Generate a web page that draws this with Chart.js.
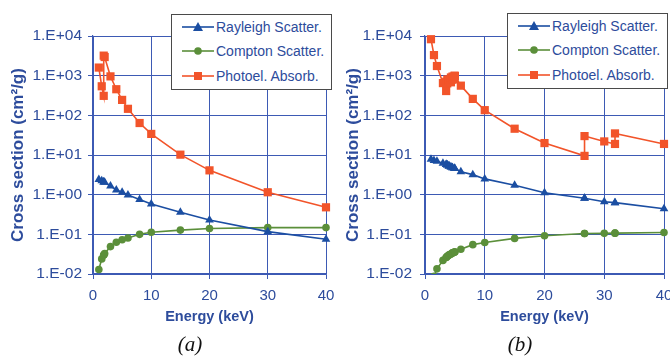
<!DOCTYPE html>
<html>
<head>
<meta charset="utf-8">
<script src="https://cdn.jsdelivr.net/npm/chart.js@4"></script>
<style>
  html, body { margin: 0; padding: 0; background: #fff; }
  #wrap { position: relative; width: 670px; height: 357px; overflow: hidden; }
  .panel { position: absolute; top: 0; width: 335px; height: 357px; }
  .legend {
    position: absolute; box-sizing: border-box; width: 161px; height: 76px;
    background: #fff; border: 1px solid #4a4a4a;
    font: 14px 'Liberation Sans', Arial, sans-serif; color: #2d4c9c;
  }
  .legend .row { position: absolute; left: 0; height: 20px; line-height: 20px; }
  .legend svg { position: absolute; left: 10px; top: 0; }
  .legend span { position: absolute; left: 44px; top: 0; white-space: nowrap; }
  .caption {
    position: absolute; top: 332px; width: 40px; text-align: center;
    font: italic 21px 'Liberation Serif', 'DejaVu Serif', serif; color: #111;
  }
</style>
</head>
<body>
<div id="wrap">
  <div class="panel" style="left:0"><canvas id="chart-a" width="335" height="357"></canvas></div>
  <div class="panel" style="left:335px"><canvas id="chart-b" width="335" height="357"></canvas></div>
  <div class="legend" id="legend-a" style="left:171px; top:14px"></div>
  <div class="legend" id="legend-b" style="left:507px; top:13px"></div>
  <div class="caption" style="left:170px">(a)</div>
  <div class="caption" style="left:500px">(b)</div>
</div>
<script>
// ---- data ----
const SERIES_NAMES = ['Rayleigh Scatter.', 'Compton Scatter.', 'Photoel. Absorb.'];
const X_TICKS = [0, 10, 20, 30, 40];
const Y_TICK_VALUES = [1e-2, 1e-1, 1e0, 1e1, 1e2, 1e3, 1e4];
const Y_TICK_LABELS = ['1.E-02', '1.E-01', '1.E+00', '1.E+01', '1.E+02', '1.E+03', '1.E+04'];

// panel (a)
const ENERGY_A = [1, 1.5, 1.84, 1.84, 2, 3, 4, 5, 6, 8, 10, 15, 20, 30, 40];
const RAYLEIGH_A = [2.4, 2.25, 2.1, 2.1, 2.05, 1.65, 1.32, 1.15, 0.98, 0.76, 0.58, 0.36, 0.23, 0.117, 0.075];
const COMPTON_A = [0.013, 0.024, 0.030, 0.030, 0.033, 0.049, 0.063, 0.073, 0.081, 0.100, 0.113, 0.128, 0.140, 0.148, 0.148];
const PHOTO_A = [1600, 540, 310, 3200, 2950, 960, 455, 245, 146, 64, 34, 10.2, 4.1, 1.15, 0.48];

// panel (b)
const ENERGY_B = [1, 1.5, 2, 3, 3.54, 3.54, 3.73, 3.73, 4, 4.02, 4.02, 4.34, 4.34, 4.61, 4.61, 4.94, 4.94, 5, 6, 8, 10, 15, 20, 26.7, 26.7, 30, 31.8, 31.8, 40];
const RAYLEIGH_B = [7.8, 7.3, 7.0, 6.2, 5.8, 5.8, 5.6, 5.6, 5.3, 5.3, 5.3, 5.0, 5.0, 4.8, 4.8, 4.6, 4.6, 4.55, 3.8, 3.2, 2.5, 1.72, 1.12, 0.81, 0.81, 0.66, 0.63, 0.63, 0.44];
const COMPTON_B = [0.005, 0.0088, 0.0135, 0.022, 0.026, 0.026, 0.028, 0.028, 0.030, 0.030, 0.030, 0.032, 0.032, 0.034, 0.034, 0.036, 0.036, 0.036, 0.042, 0.055, 0.062, 0.079, 0.092, 0.105, 0.105, 0.106, 0.107, 0.107, 0.111];
const PHOTO_B = [8300, 3300, 1750, 650, 410, 700, 640, 800, 740, 730, 800, 680, 900, 790, 950, 830, 1000, 980, 560, 260, 135, 46, 20, 9.5, 30, 22, 19, 35, 19];

// ---- styles ----
const FONT = "'Liberation Sans', Arial, sans-serif";
const AXIS_TEXT = '#2d4c9c';
const GRID = '#3d5ab4';
const STYLES = [
  { color: '#1b4ea2', point: 'triangle', radius: 5 },
  { color: '#5b8f3a', point: 'circle', radius: 3.8 },
  { color: '#f2542a', point: 'rect', radius: 5.8 },
];

// 凡例（HTML）
function buildLegend(id) {
  const box = document.getElementById(id);
  const rows = [2, 26, 51];
  SERIES_NAMES.forEach((name, i) => {
    const s = STYLES[i];
    let mark;
    if (s.point === 'triangle') mark = '<polygon points="16,5 21,14 11,14" fill="' + s.color + '"/>';
    else if (s.point === 'circle') mark = '<circle cx="16" cy="10" r="3.8" fill="' + s.color + '"/>';
    else mark = '<rect x="12" y="6" width="8" height="8" fill="' + s.color + '"/>';
    const row = document.createElement('div');
    row.className = 'row';
    row.style.top = rows[i] + 'px';
    row.innerHTML = '<svg width="32" height="20"><line x1="0" y1="10" x2="32" y2="10" stroke="' + s.color +
      '" stroke-width="1.6"/>' + mark + '</svg><span>' + name + '</span>';
    box.appendChild(row);
  });
}

function toPoints(xs, ys) {
  return xs.map((x, i) => ({ x, y: ys[i] }));
}

function buildChart(canvasId, energy, series, plotLeft, rightPad, tickPad) {
  const datasets = series.map((ys, i) => ({
    label: SERIES_NAMES[i],
    data: toPoints(energy, ys),
    showLine: true,
    borderColor: STYLES[i].color,
    backgroundColor: STYLES[i].color,
    borderWidth: 1.6,
    pointStyle: STYLES[i].point,
    pointRadius: STYLES[i].radius,
    pointBorderWidth: 0,
    clip: { left: 10, right: 10, top: 10, bottom: 0 },
  }));

  return new Chart(document.getElementById(canvasId), {
    type: 'scatter',
    data: { datasets },
    options: {
      responsive: false,
      animation: false,
      layout: { padding: { left: 0, right: rightPad, top: 36, bottom: 27 } },
      plugins: { legend: { display: false }, tooltip: { enabled: false } },
      scales: {
        x: {
          type: 'linear',
          min: 0,
          max: 40,
          afterBuildTicks: (scale) => { scale.ticks = X_TICKS.map((v) => ({ value: v })); },
          afterFit: (scale) => { scale.height = 56; scale.paddingLeft = 0; scale.paddingRight = 0; },
          grid: { color: GRID, lineWidth: 1, tickLength: 5, tickColor: GRID },
          border: { color: GRID, width: 1.2 },
          ticks: { color: AXIS_TEXT, font: { family: FONT, size: 15 }, padding: 8, maxRotation: 0 },
          title: {
            display: true,
            text: 'Energy (keV)',
            color: AXIS_TEXT,
            font: { family: FONT, size: 14.5, weight: 'bold' },
            padding: { top: 4, bottom: 4 },
          },
        },
        y: {
          type: 'logarithmic',
          min: 0.01,
          max: 10000,
          afterBuildTicks: (scale) => { scale.ticks = Y_TICK_VALUES.map((v) => ({ value: v })); },
          afterFit: (scale) => { scale.width = plotLeft; },
          grid: { color: GRID, lineWidth: 1, tickLength: 5, tickColor: GRID },
          border: { color: GRID, width: 1.2 },
          ticks: {
            color: AXIS_TEXT,
            font: { family: FONT, size: 15.5 },
            padding: tickPad,
            callback: (v) => {
              const i = Y_TICK_VALUES.findIndex((t) => Math.abs(Math.log10(t) - Math.log10(v)) < 1e-6);
              return i >= 0 ? Y_TICK_LABELS[i] : '';
            },
          },
          title: {
            display: true,
            text: 'Cross section (cm²/g)',
            color: AXIS_TEXT,
            font: { family: FONT, size: 17, weight: 'bold' },
            padding: { top: 8, bottom: 0 },
          },
        },
      },
    },
  });
}

buildChart('chart-a', ENERGY_A, [RAYLEIGH_A, COMPTON_A, PHOTO_A], 93, 9, 6);
buildChart('chart-b', ENERGY_B, [RAYLEIGH_B, COMPTON_B, PHOTO_B], 90, 6, 8);
buildLegend('legend-a');
buildLegend('legend-b');
</script>
</body>
</html>
